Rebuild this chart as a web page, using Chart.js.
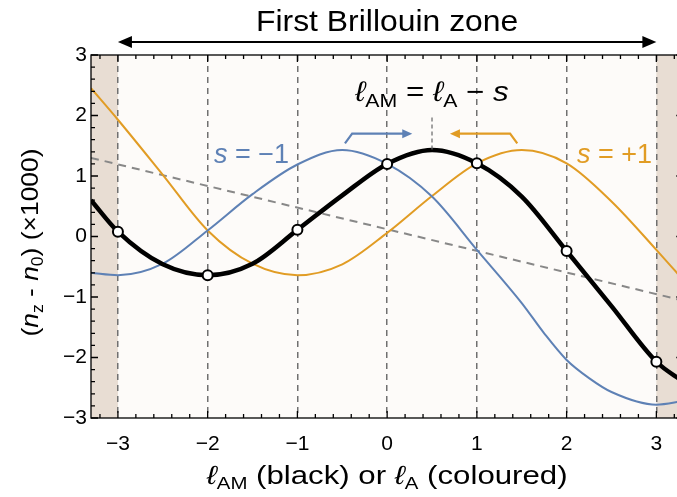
<!DOCTYPE html>
<html>
<head>
<meta charset="utf-8">
<script src="https://cdn.jsdelivr.net/npm/chart.js@4.4.1/dist/chart.umd.min.js"></script>
<style>
  html, body { margin: 0; padding: 0; background: #fff; }
</style>
</head>
<body>
<canvas id="graph" width="677" height="497"></canvas>
<script>
// data
const xs = [-3.3, -3, -2.5, -2, -1.5, -1, -0.5, 0, 0.5, 1, 1.5, 2, 2.5, 3, 3.3];
const blackVals = [0.60, 0.08, -0.46, -0.64, -0.45, 0.11, 0.68, 1.20, 1.43, 1.21, 0.66, -0.24, -1.15, -2.07, -2.40];
const blueX = [-3.3, -3, -2.5, -2, -1.5, -1, -0.5, 0, 0.5, 1, 1.5, 1.75, 2, 2.25, 2.5, 3, 3.3];
const blueVals = [-0.60, -0.64, -0.45, 0.10, 0.70, 1.19, 1.43, 1.20, 0.66, -0.22, -1.10, -1.60, -2.04, -2.34, -2.57, -2.78, -2.72];
const orangeVals = [2.45, 1.93, 1.02, 0.10, -0.45, -0.64, -0.46, 0.06, 0.67, 1.21, 1.43, 1.21, 0.58, -0.22, -0.72];
const trendX = [-3.3, 3.3];
const trendVals = [1.30, -1.06];
const xTicks = [-3, -2, -1, 0, 1, 2, 3];
const yTicks = [-3, -2, -1, 0, 1, 2, 3];

const FONT = '"Liberation Sans", Arial, sans-serif';
const BLUE = '#5e81b5';
const ORANGE = '#e19c24';

function pts(vals, xv) {
  return vals.map((v, i) => ({ x: (xv || xs)[i], y: v }));
}

// draws text made of pieces [text, size, italic, dy]
function rich(ctx, parts, x, y, align, sx, color) {
  let w = 0;
  parts.forEach(p => {
    ctx.font = (p[2] ? 'italic ' : '') + p[1] + 'px ' + FONT;
    p.w = ctx.measureText(p[0]).width;
    w += p.w;
  });
  ctx.save();
  ctx.translate(x, y);
  ctx.scale(sx, 1);
  ctx.fillStyle = color || '#000';
  ctx.textAlign = 'left';
  ctx.textBaseline = 'alphabetic';
  let cx = align === 'center' ? -w / 2 : (align === 'right' ? -w : 0);
  parts.forEach(p => {
    ctx.font = (p[2] ? 'italic ' : '') + p[1] + 'px ' + FONT;
    ctx.fillText(p[0], cx, p[3] || 0);
    cx += p.w;
  });
  ctx.restore();
}

function arrowHead(ctx, x, y, dir, len, half, color) {
  ctx.fillStyle = color;
  ctx.beginPath();
  ctx.moveTo(x, y);
  ctx.lineTo(x - dir * len, y - half);
  ctx.lineTo(x - dir * len, y + half);
  ctx.closePath();
  ctx.fill();
}

const zonePlugin = {
  id: 'zone',
  beforeDraw(chart) {
    const { ctx, chartArea: a, scales: { x } } = chart;
    const xl = x.getPixelForValue(-3), xr = x.getPixelForValue(3);
    ctx.save();
    ctx.fillStyle = '#fdfbf9';
    ctx.fillRect(a.left, a.top, a.right - a.left, a.bottom - a.top);
    ctx.fillStyle = '#e8ddd3';
    ctx.fillRect(a.left, a.top, xl - a.left, a.bottom - a.top);
    ctx.fillRect(xr, a.top, a.right - xr, a.bottom - a.top);
    ctx.restore();
  },
  afterDatasetsDraw(chart) {
    const { ctx, chartArea: a, scales: { x, y } } = chart;
    const right = x.getPixelForValue(3.3);
    ctx.save();

    // small dashed marker at the peak
    ctx.strokeStyle = '#666';
    ctx.lineWidth = 1.2;
    ctx.setLineDash([4, 3]);
    ctx.beginPath();
    ctx.moveTo(x.getPixelForValue(0.5), y.getPixelForValue(1.44));
    ctx.lineTo(x.getPixelForValue(0.5), y.getPixelForValue(1.98));
    ctx.stroke();
    ctx.setLineDash([]);

    // frame with inward ticks
    ctx.strokeStyle = '#000';
    ctx.lineWidth = 1.3;
    ctx.strokeRect(a.left, a.top, right - a.left, a.bottom - a.top);
    ctx.beginPath();
    for (let i = -32; i <= 32; i += 2) {
      const px = x.getPixelForValue(i / 10);
      const len = i % 10 === 0 ? 7 : 4;
      ctx.moveTo(px, a.bottom); ctx.lineTo(px, a.bottom - len);
      ctx.moveTo(px, a.top); ctx.lineTo(px, a.top + len);
    }
    for (let i = -30; i <= 30; i += 2) {
      const py = y.getPixelForValue(i / 10);
      const len = i % 10 === 0 ? 7 : 4;
      ctx.moveTo(a.left, py); ctx.lineTo(a.left + len, py);
      ctx.moveTo(right, py); ctx.lineTo(right - len, py);
    }
    ctx.stroke();

    // s = -1 arrow
    ctx.lineWidth = 2.2;
    ctx.strokeStyle = BLUE;
    ctx.beginPath();
    ctx.moveTo(x.getPixelForValue(-0.47), y.getPixelForValue(1.54));
    ctx.lineTo(x.getPixelForValue(-0.39), y.getPixelForValue(1.70));
    ctx.lineTo(x.getPixelForValue(0.20), y.getPixelForValue(1.70));
    ctx.stroke();
    arrowHead(ctx, x.getPixelForValue(0.28), y.getPixelForValue(1.70), 1, 10, 4.5, BLUE);

    // s = +1 arrow
    ctx.strokeStyle = ORANGE;
    ctx.beginPath();
    ctx.moveTo(x.getPixelForValue(1.45), y.getPixelForValue(1.54));
    ctx.lineTo(x.getPixelForValue(1.37), y.getPixelForValue(1.70));
    ctx.lineTo(x.getPixelForValue(0.78), y.getPixelForValue(1.70));
    ctx.stroke();
    arrowHead(ctx, x.getPixelForValue(0.70), y.getPixelForValue(1.70), -1, 10, 4.5, ORANGE);

    // labels inside the plot
    rich(ctx, [['ℓ', 28, true], ['AM', 19, false, 6], [' = ', 28], ['ℓ', 28, true], ['A', 19, false, 6], [' − ', 28], ['s', 28, true]],
      x.getPixelForValue(0.5), 101, 'center', 1.12);
    rich(ctx, [['s', 27, true], [' = −1', 27]], 214, 163, 'left', 1.0, BLUE);
    rich(ctx, [['s', 27, true], [' = +1', 27]], 577, 163, 'left', 1.0, ORANGE);

    // first Brillouin zone
    const xl = x.getPixelForValue(-3), xr = x.getPixelForValue(3);
    ctx.strokeStyle = '#000';
    ctx.lineWidth = 2;
    ctx.beginPath();
    ctx.moveTo(xl + 8, 42); ctx.lineTo(xr - 8, 42);
    ctx.stroke();
    arrowHead(ctx, xl, 42, -1, 14, 6, '#000');
    arrowHead(ctx, xr, 42, 1, 14, 6, '#000');
    rich(ctx, [['First Brillouin zone', 29]], x.getPixelForValue(0), 31, 'center', 1.1);

    // axis titles
    rich(ctx, [['ℓ', 26, true], ['AM', 17, false, 5], [' (black) or ', 26], ['ℓ', 26, true], ['A', 17, false, 5], [' (coloured)', 26]],
      x.getPixelForValue(0), 484, 'center', 1.2);
    ctx.save();
    ctx.translate(38, y.getPixelForValue(-0.1));
    ctx.rotate(-Math.PI / 2);
    rich(ctx, [['(', 24], ['n', 24, true], ['z', 16, false, 5], [' - ', 24], ['n', 24, true], ['0', 16, false, 5], [') (×1000)', 24]],
      0, 0, 'center', 1.1);
    ctx.restore();

    ctx.restore();
  }
};

const fmt = v => String(v).replace('-', '−');

const configGraph = {
  type: 'line',
  data: {
    datasets: [
      {
        label: 'black',
        data: pts(blackVals),
        borderColor: '#000',
        borderWidth: 4.5,
        cubicInterpolationMode: 'monotone',
        pointRadius: c => Number.isInteger(xs[c.dataIndex]) ? 5 : 0,
        pointBackgroundColor: '#fff',
        pointBorderColor: '#000',
        pointBorderWidth: 2,
      },
      {
        label: 's=-1',
        data: pts(blueVals, blueX),
        borderColor: BLUE,
        borderWidth: 2,
        cubicInterpolationMode: 'monotone',
        pointRadius: 0,
      },
      {
        label: 's=+1',
        data: pts(orangeVals),
        borderColor: ORANGE,
        borderWidth: 2,
        cubicInterpolationMode: 'monotone',
        pointRadius: 0,
      },
      {
        label: 'trend',
        data: pts(trendVals, trendX),
        borderColor: '#888',
        borderWidth: 2,
        borderDash: [8, 6],
        pointRadius: 0,
      },
    ]
  },
  options: {
    responsive: false,
    animation: false,
    events: [],
    layout: { padding: { top: 55, right: 0, left: 0, bottom: 0 } },
    plugins: { legend: { display: false }, tooltip: { enabled: false } },
    scales: {
      x: {
        type: 'linear',
        min: -3.3,
        max: 3.23,
        afterBuildTicks: s => { s.ticks = xTicks.map(v => ({ value: v })); },
        afterFit: s => { s.height = 79; },
        grid: { display: true, drawTicks: false, color: '#707070', lineWidth: 1.5 },
        border: { display: false, dash: [6, 5] },
        ticks: { color: '#000', padding: 14, maxRotation: 0, font: { family: FONT, size: 21 }, callback: fmt },
      },
      y: {
        type: 'linear',
        min: -3,
        max: 3,
        afterBuildTicks: s => { s.ticks = yTicks.map(v => ({ value: v })); },
        afterFit: s => { s.width = 91; },
        grid: { display: false, drawTicks: false },
        border: { display: false },
        ticks: { color: '#000', padding: 4, font: { family: FONT, size: 21 }, callback: fmt },
      }
    }
  },
  plugins: [zonePlugin]
};

const graph = new Chart(document.getElementById('graph'), configGraph);
</script>
</body>
</html>
